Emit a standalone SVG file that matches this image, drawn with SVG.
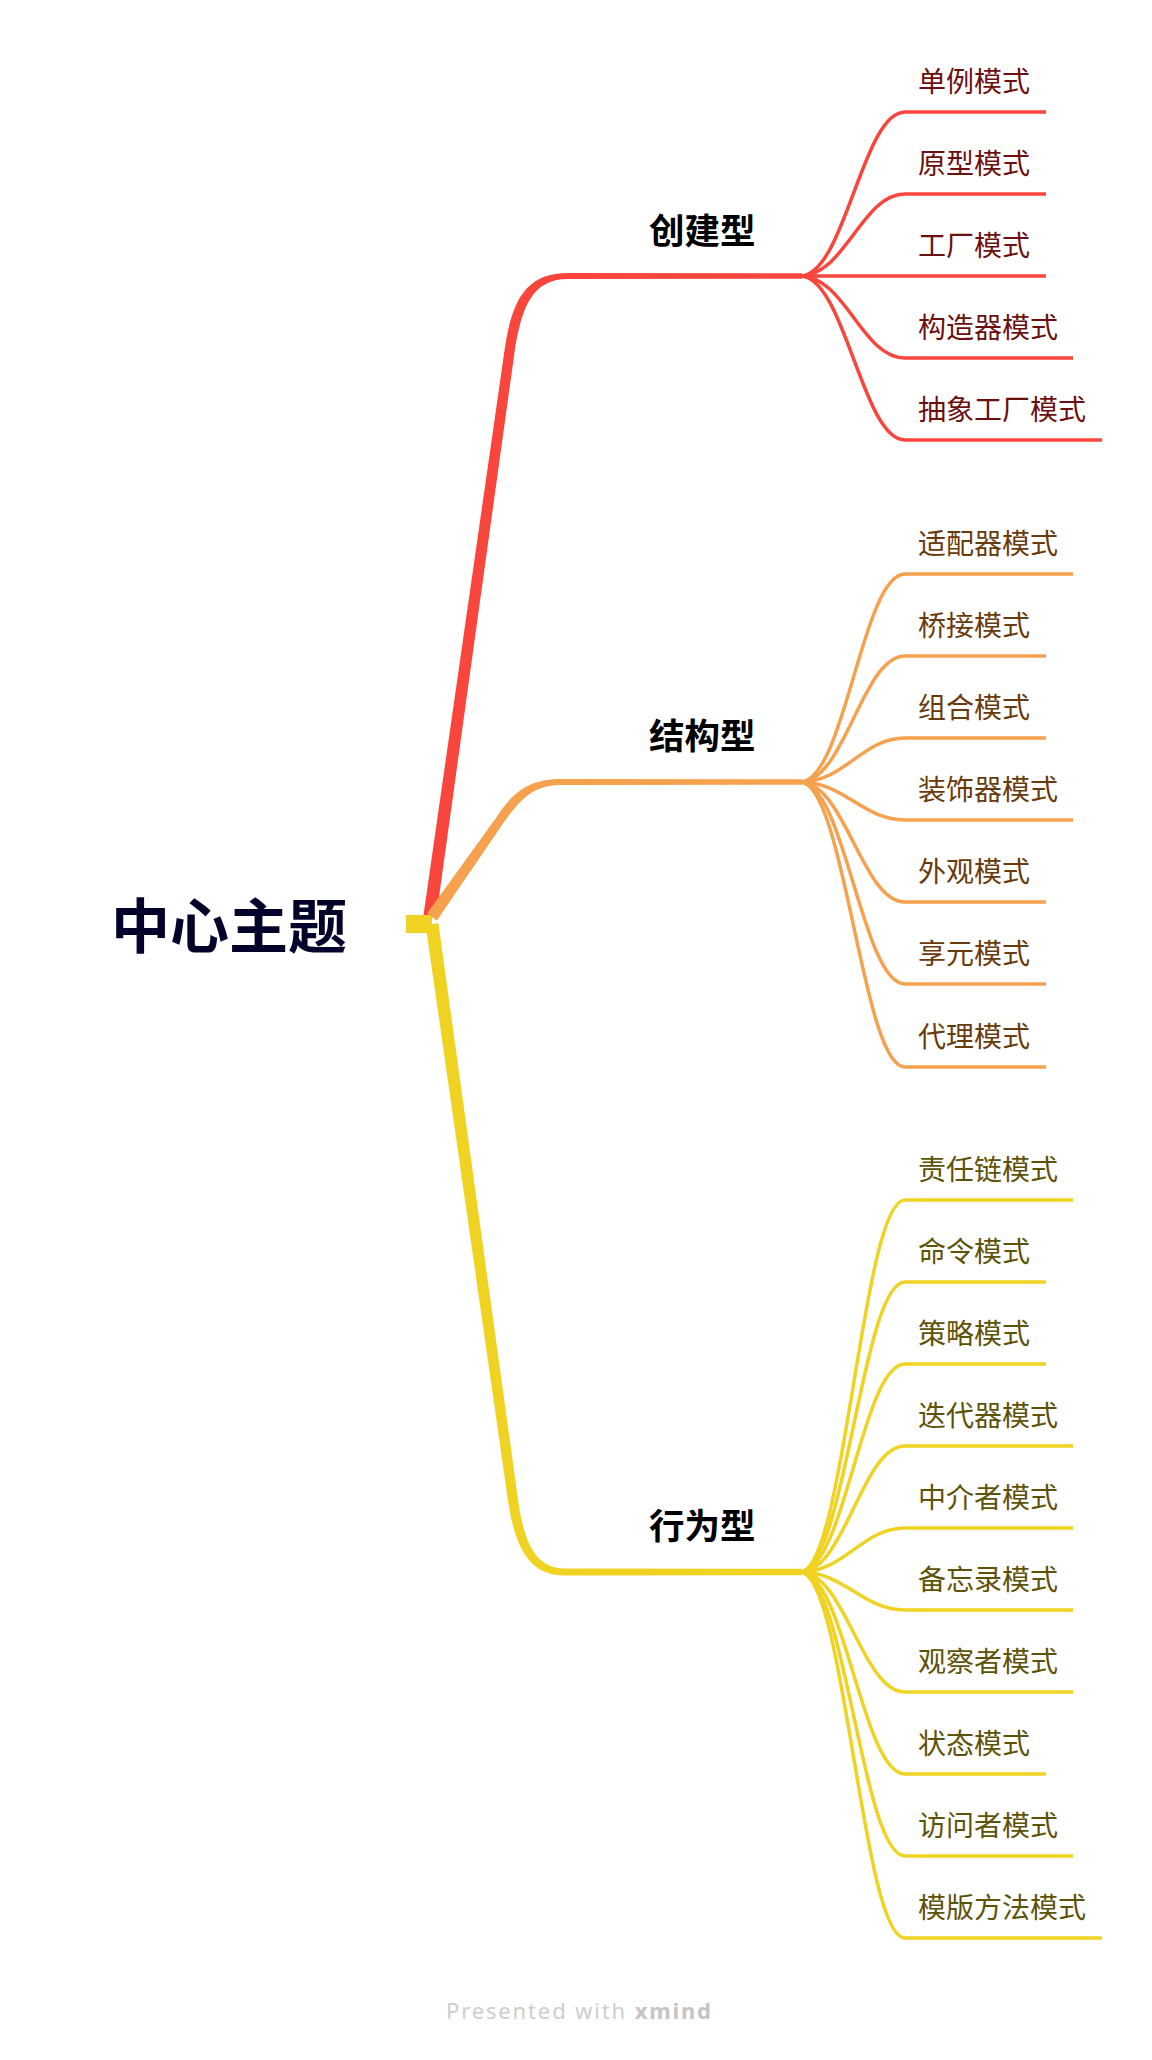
<svg xmlns="http://www.w3.org/2000/svg" width="1152" height="2060" viewBox="0 0 1152 2060">
<style>
.bg{fill:#ffffff}
.sr{fill:none;stroke:#F9463C;stroke-width:3.5;stroke-linecap:butt}
.so{fill:none;stroke:#F5A14E;stroke-width:3.5;stroke-linecap:butt}
.sy{fill:none;stroke:#F0D322;stroke-width:3.5;stroke-linecap:butt}
.fr{fill:#F9463C}
.fo{fill:#F5A14E}
.fy{fill:#F0D322}
.t{font-family:"Noto Sans CJK SC","Noto Sans",sans-serif}
.root{font-size:59px;font-weight:700;fill:#03022B}
.main{font-size:35.5px;font-weight:700;fill:#000000}
.sub{font-size:28px;font-weight:400}
.tr{fill:#6B0F0F}
.to{fill:#693A0B}
.ty{fill:#5E5207}
</style>
<rect class="bg" x="0" y="0" width="1152" height="2060"/>

<g id="connectors">
  <rect class="fy" x="406" y="915" width="26" height="18"/>
  <path id="branch-red" class="fr" d="M423.5 915 L504 354 C511 303 524 273 568 273 L802 273.3 L802 278.7 L568 279 C532 279 521 307 514 356 L436.5 915 Z"/>
  <path id="branch-orange" class="fo" d="M427 913.6 L496.3 817.4 C510 797 525 779 560 779 L802 779.3 L802 784.7 L560 785 C531 785 518 803 503.7 822.6 L436.9 920.4 Z"/>
  <path id="branch-yellow" class="fy" d="M438.4 923.1 L518 1499.3 C524 1545 537 1568.5 565 1568.5 L802 1568.8 L802 1575.2 L565 1575.5 C532 1575.5 516 1553 508 1500.7 L425.6 924.9 Z"/>

  <path class="sr" d="M800 276 C845 276 862 112 905 112 L1046 112"/>
  <path class="sr" d="M800 276 C845 276 862 194 905 194 L1046 194"/>
  <path class="sr" d="M800 276 L1046 276"/>
  <path class="sr" d="M800 276 C845 276 862 358 905 358 L1073 358"/>
  <path class="sr" d="M800 276 C845 276 862 440 905 440 L1102 440"/>

  <path class="so" d="M800 782 C845 782 862 574 905 574 L1073 574"/>
  <path class="so" d="M800 782 C845 782 862 656 905 656 L1046 656"/>
  <path class="so" d="M800 782 C845 782 862 738 905 738 L1046 738"/>
  <path class="so" d="M800 782 C845 782 862 820 905 820 L1073 820"/>
  <path class="so" d="M800 782 C845 782 862 902 905 902 L1046 902"/>
  <path class="so" d="M800 782 C845 782 862 984 905 984 L1046 984"/>
  <path class="so" d="M800 782 C845 782 862 1067 905 1067 L1046 1067"/>

  <path class="sy" d="M800 1572 C845 1572 862 1200 905 1200 L1073 1200"/>
  <path class="sy" d="M800 1572 C845 1572 862 1282 905 1282 L1046 1282"/>
  <path class="sy" d="M800 1572 C845 1572 862 1364 905 1364 L1046 1364"/>
  <path class="sy" d="M800 1572 C845 1572 862 1446 905 1446 L1073 1446"/>
  <path class="sy" d="M800 1572 C845 1572 862 1528 905 1528 L1073 1528"/>
  <path class="sy" d="M800 1572 C845 1572 862 1610 905 1610 L1073 1610"/>
  <path class="sy" d="M800 1572 C845 1572 862 1692 905 1692 L1073 1692"/>
  <path class="sy" d="M800 1572 C845 1572 862 1774 905 1774 L1046 1774"/>
  <path class="sy" d="M800 1572 C845 1572 862 1856 905 1856 L1073 1856"/>
  <path class="sy" d="M800 1572 C845 1572 862 1938 905 1938 L1102 1938"/>
</g>

<g id="node-root"><text class="t root" x="111" y="922" dominant-baseline="central">中心主题</text></g>

<g id="node-creational"><text class="t main" x="649" y="228" dominant-baseline="central">创建型</text></g>
<g id="node-structural"><text class="t main" x="649" y="733.5" dominant-baseline="central">结构型</text></g>
<g id="node-behavioral"><text class="t main" x="649" y="1523.5" dominant-baseline="central">行为型</text></g>

<g id="node-singleton"><text class="t sub tr" x="918" y="80" dominant-baseline="central">单例模式</text></g>
<g id="node-prototype"><text class="t sub tr" x="918" y="162" dominant-baseline="central">原型模式</text></g>
<g id="node-factory"><text class="t sub tr" x="918" y="244" dominant-baseline="central">工厂模式</text></g>
<g id="node-builder"><text class="t sub tr" x="918" y="326" dominant-baseline="central">构造器模式</text></g>
<g id="node-abstract-factory"><text class="t sub tr" x="918" y="408" dominant-baseline="central">抽象工厂模式</text></g>

<g id="node-adapter"><text class="t sub to" x="918" y="542" dominant-baseline="central">适配器模式</text></g>
<g id="node-bridge"><text class="t sub to" x="918" y="624" dominant-baseline="central">桥接模式</text></g>
<g id="node-composite"><text class="t sub to" x="918" y="706" dominant-baseline="central">组合模式</text></g>
<g id="node-decorator"><text class="t sub to" x="918" y="788" dominant-baseline="central">装饰器模式</text></g>
<g id="node-facade"><text class="t sub to" x="918" y="870" dominant-baseline="central">外观模式</text></g>
<g id="node-flyweight"><text class="t sub to" x="918" y="952" dominant-baseline="central">享元模式</text></g>
<g id="node-proxy"><text class="t sub to" x="918" y="1035" dominant-baseline="central">代理模式</text></g>

<g id="node-chain"><text class="t sub ty" x="918" y="1168" dominant-baseline="central">责任链模式</text></g>
<g id="node-command"><text class="t sub ty" x="918" y="1250" dominant-baseline="central">命令模式</text></g>
<g id="node-strategy"><text class="t sub ty" x="918" y="1332" dominant-baseline="central">策略模式</text></g>
<g id="node-iterator"><text class="t sub ty" x="918" y="1414" dominant-baseline="central">迭代器模式</text></g>
<g id="node-mediator"><text class="t sub ty" x="918" y="1496" dominant-baseline="central">中介者模式</text></g>
<g id="node-memento"><text class="t sub ty" x="918" y="1578" dominant-baseline="central">备忘录模式</text></g>
<g id="node-observer"><text class="t sub ty" x="918" y="1660" dominant-baseline="central">观察者模式</text></g>
<g id="node-state"><text class="t sub ty" x="918" y="1742" dominant-baseline="central">状态模式</text></g>
<g id="node-visitor"><text class="t sub ty" x="918" y="1824" dominant-baseline="central">访问者模式</text></g>
<g id="node-template"><text class="t sub ty" x="918" y="1906" dominant-baseline="central">模版方法模式</text></g>

<g id="footer"><text x="578.5" y="2019" text-anchor="middle" font-family="'Noto Sans','Open Sans',sans-serif" font-size="22" fill="#CDCDCD" textLength="265" lengthAdjust="spacing">Presented with <tspan font-weight="700" fill="#C4C4C4">xmind</tspan></text></g>
</svg>
